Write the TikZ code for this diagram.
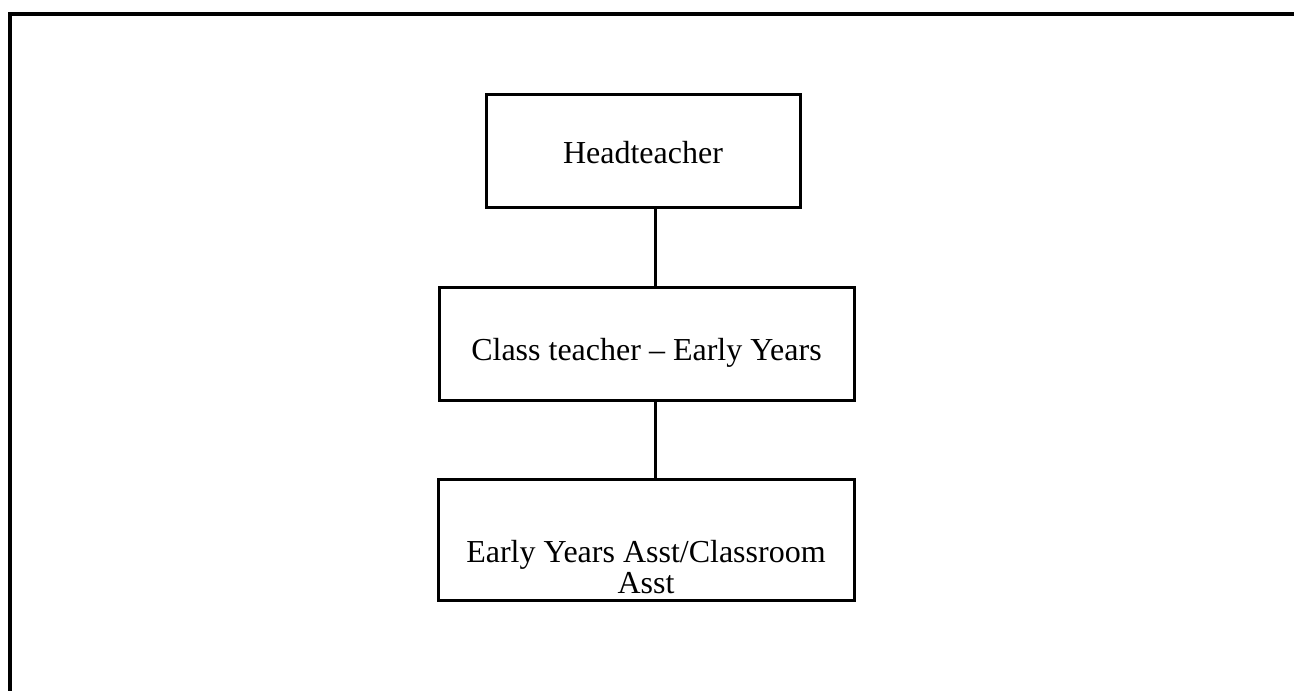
\documentclass[tikz,border=0pt]{standalone}
\usepackage{fontspec}
\setmainfont{Liberation Serif}
\newcommand{\lowered}[2]{\raisebox{-#1}[0pt][0pt]{#2}}
\begin{document}
\begin{tikzpicture}[x=1pt,y=-1pt,
  box/.style={draw=black,line width=3pt,rectangle,inner sep=0pt,font=\fontsize{32}{31}\selectfont},
  link/.style={draw=black,line width=3pt},
  frame/.style={draw=black,line width=4pt}]
\useasboundingbox (0,0) rectangle (1294,691);
\clip (0,0) rectangle (1294,691);
\coordinate (fl) at (10,700);
\coordinate (fc) at (10,14);
\coordinate (fr) at (1300,14);
\draw[frame] (fl) -- (fc) -- (fr);
\node[box,minimum width=314pt,minimum height=113pt] (b1) at (643,150.5) {\lowered{12.5pt}{Headteacher}};
\node[box,minimum width=415pt,minimum height=113pt] (b2) at (646.5,343.5) {\lowered{16.5pt}{Class teacher -- Early Years}};
\node[box,minimum width=416pt,minimum height=121pt] (b3) at (646,539.5) {\lowered{53.5pt}{\begin{tabular}[b]{@{}c@{}}Early Years Asst/Classroom\\Asst\end{tabular}}};
\coordinate (cx) at (655,0);
\draw[link] (b1.south -| cx) -- (b2.north -| cx);
\draw[link] (b2.south -| cx) -- (b3.north -| cx);
\end{tikzpicture}
\end{document}
